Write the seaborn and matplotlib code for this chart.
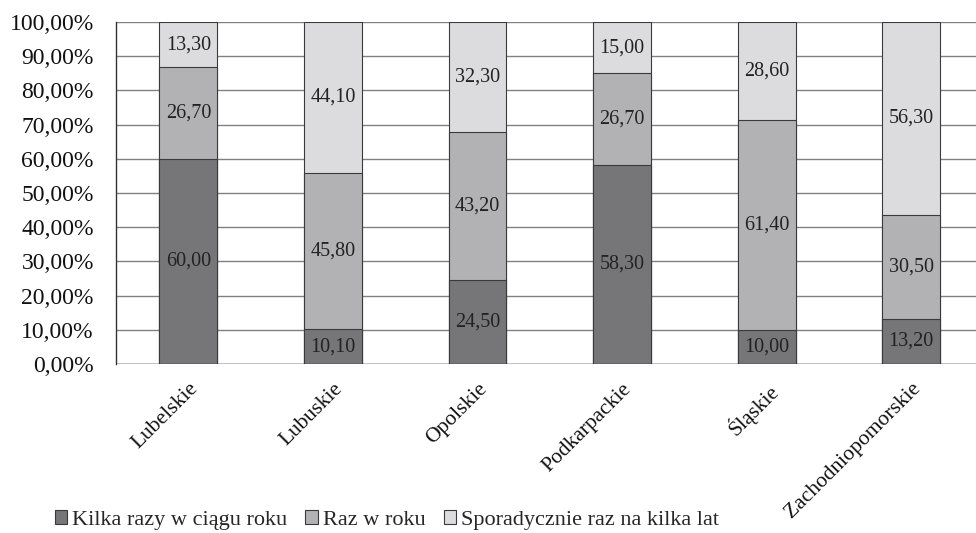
import numpy as np
import pandas as pd
import matplotlib
matplotlib.use("Agg")
import matplotlib.pyplot as plt
import seaborn as sns
from matplotlib.patches import Patch

# values (percent)
regions = ["Lubelskie", "Lubuskie", "Opolskie", "Podkarpackie", "Śląskie", "Zachodniopomorskie"]
kilka = [60.0, 10.1, 24.5, 58.3, 10.0, 13.2]
raz = [26.7, 45.8, 43.2, 26.7, 61.4, 30.5]
sporad = [13.3, 44.1, 32.3, 15.0, 28.6, 56.3]
series_names = ["Kilka razy w ciągu roku", "Raz w roku", "Sporadycznie raz na kilka lat"]
colors = ["#767678", "#b2b2b4", "#dcdcde"]

sns.set_style("white")
plt.rcParams["font.family"] = ["Liberation Serif", "DejaVu Serif"]

df = pd.DataFrame({"region": regions, "kilka": kilka, "raz": raz, "sporad": sporad})
df["c1"] = df["kilka"]
df["c2"] = df["kilka"] + df["raz"]
df["c3"] = df["c2"] + df["sporad"]

fig = plt.figure(figsize=(9.76, 5.33), dpi=100)
ax = fig.add_axes([0.1189, 0.317, 0.8889, 0.6418])

ax.set_axisbelow(True)
ax.yaxis.grid(True, color="#808080", linewidth=1.0)

# stacked bars: draw cumulative totals from top layer down
for col, c in [("c3", colors[2]), ("c2", colors[1]), ("c1", colors[0])]:
    sns.barplot(data=df, x="region", y=col, color=c, width=0.4,
                edgecolor="#3a3a3a", linewidth=0.8, ax=ax, saturation=1)

# segment labels
for i, row in df.iterrows():
    bottoms = [0, row["c1"], row["c2"]]
    for b, v in zip(bottoms, [row["kilka"], row["raz"], row["sporad"]]):
        ax.text(i, b + v / 2, f"{v:.2f}".replace(".", ","), ha="center", va="center",
                fontsize=14.5, color="#222222")

ax.set_xlim(-0.5, len(regions) - 0.5)
ax.set_ylim(0, 100)
ax.set_yticks(np.arange(0, 101, 10))
ax.set_yticklabels([f"{v},00%" for v in range(0, 101, 10)], fontsize=17, color="#111111")
ax.set_xlabel("")
ax.set_ylabel("")
ax.set_xticks(range(len(regions)))
ax.set_xticklabels(regions, rotation=45, ha="right", rotation_mode="anchor", fontsize=15.5,
                   color="#111111")
ax.tick_params(axis="x", which="major", length=0, pad=11)
ax.set_xticks(np.arange(-0.5, len(regions), 1.0), minor=True)
ax.tick_params(axis="x", which="minor", length=6, width=1, color="#333333", direction="out")
ax.tick_params(axis="y", length=6, width=1, color="#333333", direction="out", pad=10)

for s in ["top", "right", "bottom"]:
    ax.spines[s].set_visible(False)
ax.spines["left"].set_color("#333333")
ax.spines["left"].set_linewidth(1)
ax.axhline(0, color="#333333", linewidth=1)

handles = [Patch(facecolor=c, edgecolor="#3a3a3a", linewidth=0.8) for c in colors]
fig.legend(handles, series_names, loc="center left", bbox_to_anchor=(0.056, 0.024),
           ncol=3, frameon=False, fontsize=16, handlelength=0.55, handleheight=0.55,
           handletextpad=0.25, columnspacing=0.8, borderaxespad=0, borderpad=0)

fig.savefig("out.png", dpi=100)
